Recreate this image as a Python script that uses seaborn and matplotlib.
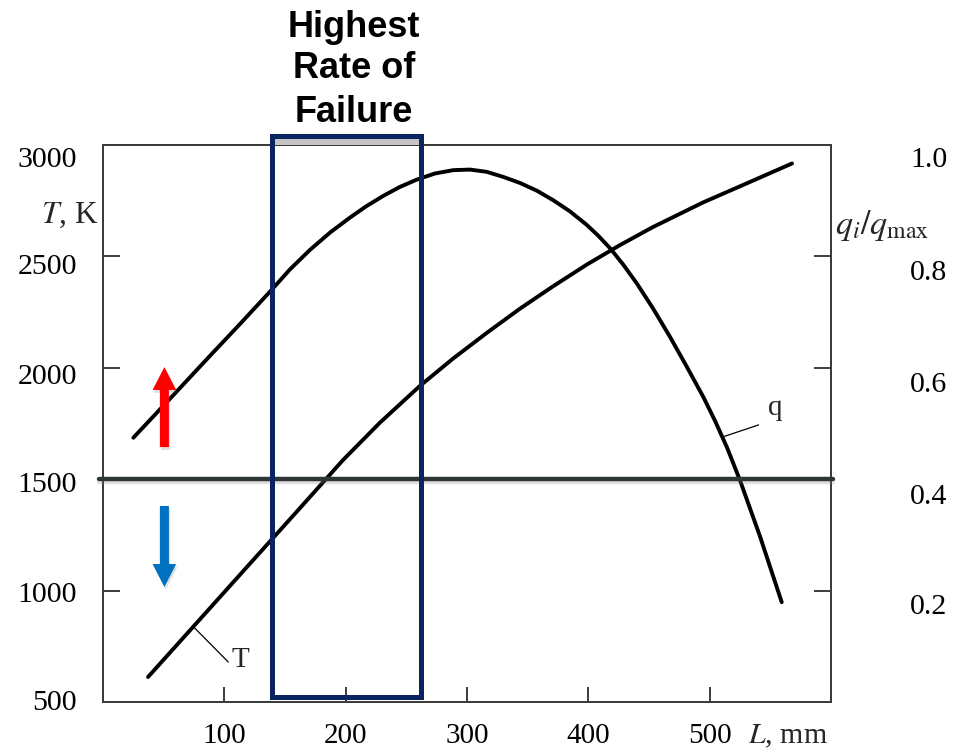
import matplotlib
matplotlib.use("Agg")
import matplotlib.pyplot as plt
import matplotlib.transforms as mtransforms
import matplotlib.patheffects as pe
from matplotlib.patches import Rectangle
import seaborn as sns

# Gas temperature along the length, T [K]
L_T = [37.1, 79.9, 121.2, 162.4, 197.8, 228.3, 261.3, 288.5, 316.5, 343.7,
       370.9, 398.9, 426.1, 453.3, 494.5, 535.7, 567.9]
T_K = [612, 871, 1121, 1370, 1585, 1753, 1918, 2040, 2156, 2264,
       2364, 2462, 2549, 2630, 2740, 2838, 2915]

# Relative heat flux q_i / q_max along the length
L_q = [25.0, 55.2, 88.2, 112.9, 137.6, 154.1, 170.6, 187.1, 203.6, 216.8,
       231.1, 244.8, 258.6, 273.6, 288.7, 302.5, 316.2, 329.7, 343.7, 357.7,
       371.1, 384.9, 398.6, 407.9, 417.9, 428.6, 439.9, 453.3, 467.3, 480.5,
       494.8, 504.5, 514.4, 525.1, 541.5, 559.4]
q_rel = [0.474, 0.544, 0.621, 0.678, 0.736, 0.776, 0.811, 0.842, 0.869, 0.889,
         0.908, 0.924, 0.937, 0.948, 0.954, 0.955, 0.951, 0.942, 0.931, 0.917,
         0.900, 0.880, 0.856, 0.837, 0.814, 0.785, 0.751, 0.706, 0.655, 0.604,
         0.547, 0.504, 0.456, 0.397, 0.297, 0.179]

# Axis ticks
x_ticks = [100, 200, 300, 400, 500]
x_tick_labels = ["100", "200", "300", "400", "500"]
T_ticks = [500, 1000, 1500, 2000, 2500, 3000]
T_tick_labels = ["500", "1000", "1500", "2000", "2500", "3000"]
q_ticks = [0.2, 0.4, 0.6, 0.8, 1.0]
q_tick_labels = ["0.2", "0.4", "0.6", "0.8", "1.0"]

# Critical temperature threshold and the failure zone
T_threshold = 1500
zone_L = (139.5, 262.1)
zone_T = (522, 3038)
arrow_L = 50.6
up_arrow_T = (1643, 2002)
down_arrow_T = (1379, 1016)

sns.set_theme(style="white")
plt.rcParams["font.family"] = ["Liberation Serif", "DejaVu Serif"]
plt.rcParams["mathtext.fontset"] = "stix"

W, H = 955, 753
fig = plt.figure(figsize=(W / 100, H / 100), dpi=100)
ax = fig.add_axes([103 / W, 1 - 702 / H, 728 / W, 557.5 / H])
ax2 = ax.twinx()

ax.set_xlim(0, 600)
ax.set_ylim(500, 3000)
ax2.set_ylim(0, 1.0)

sns.lineplot(x=L_T, y=T_K, ax=ax, color="black", lw=2.8, sort=False,
             solid_capstyle="round", solid_joinstyle="round")
sns.lineplot(x=L_q, y=q_rel, ax=ax2, color="black", lw=2.8, sort=False,
             solid_capstyle="round", solid_joinstyle="round")

spine_col = "#3c3c3c"
for a in (ax, ax2):
    for s in a.spines.values():
        s.set_color(spine_col)
        s.set_linewidth(1.4)
    a.grid(False)
    a.set_xlabel("")
    a.set_ylabel("")

ax.set_xticks(x_ticks)
ax.set_xticklabels(x_tick_labels)
ax.tick_params(axis="x", direction="in", length=11, width=1.4,
               color=spine_col, pad=15, labelsize=21, labelcolor="black",
               bottom=True)
ax.set_yticks(T_ticks)
ax.tick_params(axis="y", direction="in", length=12, width=1.4,
               color=spine_col, left=True, labelleft=False)
ax2.set_yticks(q_ticks)
ax2.tick_params(axis="y", direction="in", length=12, width=1.4,
                color=spine_col, right=True, labelright=False)

# Tick labels, set slightly below their tick marks
left_drop = [1, 5, 6, 10, 11, 15.5]
for v, lab, d in zip(T_ticks, T_tick_labels, left_drop):
    tr = ax.get_yaxis_transform() + mtransforms.ScaledTranslation(
        -26 / 100, -d / 100, fig.dpi_scale_trans)
    ax.text(0, v, lab, transform=tr, ha="right", va="center", fontsize=21.5,
            color="black")
right_drop = [17, 18, 18, 17, 15.5]
for v, lab, d in zip(q_ticks, q_tick_labels, right_drop):
    tr = ax2.get_yaxis_transform() + mtransforms.ScaledTranslation(
        79 / 100, -d / 100, fig.dpi_scale_trans)
    ax2.text(1, v, lab, transform=tr, ha="left", va="center", fontsize=21.5,
             color="black")

# Axis titles
ax.text(-0.007, 0.8735, r"$T$, K", transform=ax.transAxes, ha="right",
        va="center", fontsize=22.5)
ax.text(1.006, 0.854, r"$q_i/q_{\rm max}$", transform=ax.transAxes,
        ha="left", va="center", fontsize=24.5)
ax.text(0.886, -0.062, r"$L$, mm", transform=ax.transAxes, ha="left",
        va="center", fontsize=21.5)

# Curve labels with leader lines
ax.plot([74.4, 103.3], [838, 679], color="black", lw=0.9)
ax.text(113.6, 657, "T", ha="center", va="baseline", fontsize=21)
ax2.plot([511.5, 540.3], [0.476, 0.497], color="black", lw=0.9)
ax2.text(554, 0.515, "q", ha="center", va="baseline", fontsize=21)

# Threshold line
ax2.plot([-3, 602], [T_threshold, T_threshold], transform=ax.transData,
         color="#2f3437", lw=3.2, clip_on=False, zorder=5,
         path_effects=[pe.SimpleLineShadow(offset=(0, -2.5), alpha=0.25,
                                           shadow_color="gray"),
                       pe.Normal()])

# Failure zone box
ax2.add_patch(Rectangle((zone_L[0], 3000), zone_L[1] - zone_L[0], 38,
                        transform=ax.transData, facecolor="#c4c4c4",
                        edgecolor="none", clip_on=False, zorder=6))
ax2.add_patch(Rectangle((zone_L[0], zone_T[0]), zone_L[1] - zone_L[0],
                        zone_T[1] - zone_T[0], transform=ax.transData,
                        fill=False, edgecolor="#0a2461", lw=3.6,
                        joinstyle="miter", clip_on=False, zorder=7))

# Up / down arrows
for (t0, t1), col in ((up_arrow_T, "#ff0000"), (down_arrow_T, "#0070c0")):
    ax2.annotate("", xy=(arrow_L, t1), xytext=(arrow_L, t0),
                 xycoords=ax.transData, textcoords=ax.transData,
                 arrowprops=dict(width=6.5, headwidth=17, headlength=16.5,
                                 shrink=0, color=col, lw=0,
                                 path_effects=[pe.withSimplePatchShadow(
                                     offset=(1, -2), alpha=0.25,
                                     shadow_rgbFace="gray")]),
                 zorder=8)

# Heading above the box
for txt, base in (("Highest", 37), ("Rate of", 78), ("Failure", 122)):
    fig.text(354 / W, 1 - base / H, txt, ha="center", va="baseline",
             fontsize=26, fontweight="bold", family="Liberation Sans",
             color="black")

fig.savefig("out.png", dpi=100)
